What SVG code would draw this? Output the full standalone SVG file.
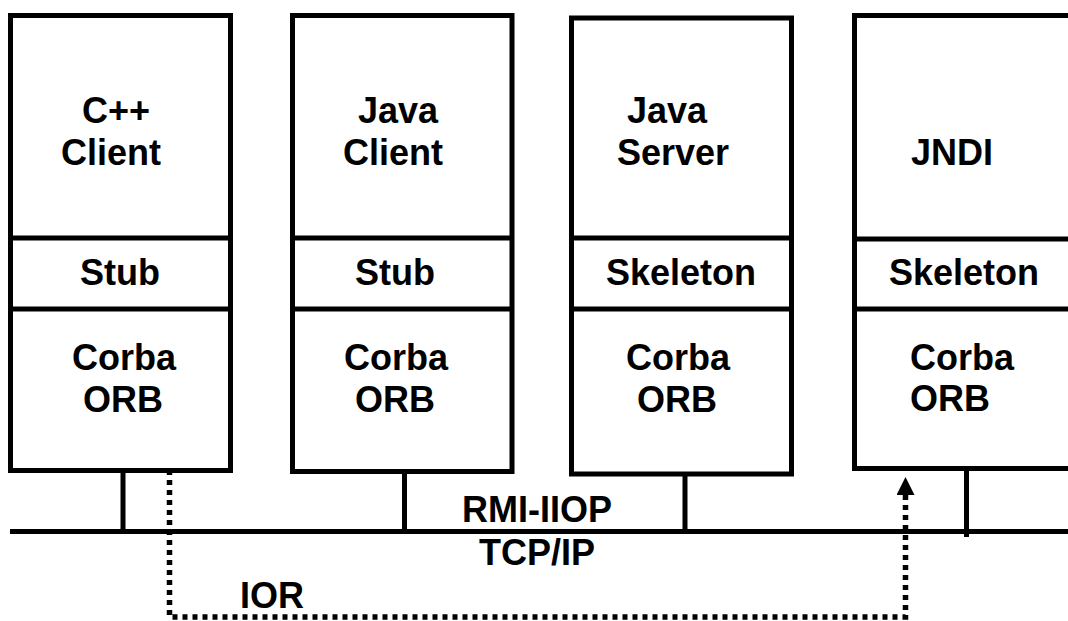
<svg xmlns="http://www.w3.org/2000/svg" width="1068" height="621" viewBox="0 0 1068 621">
<style>
.box{fill:#fff;stroke:#000;stroke-width:5}
.ln{stroke:#000;stroke-width:5;fill:none}
.dot{stroke:#000;stroke-width:5.5;fill:none;stroke-dasharray:5 5}
text{font-family:"Liberation Sans",Arial,sans-serif;font-weight:bold;font-size:36px;fill:#000}
</style>
<defs>
<marker id="arr" markerUnits="userSpaceOnUse" markerWidth="18" markerHeight="18" viewBox="0 0 18 18" refX="0" refY="9" orient="auto">
<polygon points="0,0 18,9 0,18" fill="#000"/>
</marker>
</defs>
<g id="connectors">
<line class="ln" x1="10" y1="531.5" x2="1068" y2="531.5"/>
<line class="ln" x1="123" y1="470" x2="123" y2="531.5"/>
<line class="ln" x1="404.5" y1="471" x2="404.5" y2="531.5"/>
<line class="ln" x1="685" y1="474" x2="685" y2="531.5"/>
<line class="ln" x1="966.5" y1="468" x2="966.5" y2="537"/>
<path class="dot" d="M169.5 470 V617 H905.5 V495" marker-end="url(#arr)"/>
</g>
<g id="cpp-client">
<rect class="box" x="10.5" y="15.5" width="220" height="455"/>
<line class="ln" x1="10.5" y1="238" x2="230.5" y2="238"/>
<line class="ln" x1="10.5" y1="309" x2="230.5" y2="309"/>
<text x="82" y="123">C++</text>
<text x="61" y="165">Client</text>
<text x="80" y="285">Stub</text>
<text x="72" y="370">Corba</text>
<text x="83" y="412">ORB</text>
</g>
<g id="java-client">
<rect class="box" x="292.5" y="15.5" width="219.5" height="456"/>
<line class="ln" x1="292.5" y1="238" x2="512" y2="238"/>
<line class="ln" x1="292.5" y1="309" x2="512" y2="309"/>
<text x="358" y="123">Java</text>
<text x="343" y="165">Client</text>
<text x="355" y="285">Stub</text>
<text x="344" y="370">Corba</text>
<text x="355" y="412">ORB</text>
</g>
<g id="java-server">
<rect class="box" x="571.5" y="18" width="220" height="456"/>
<line class="ln" x1="571.5" y1="238" x2="791.5" y2="238"/>
<line class="ln" x1="571.5" y1="309" x2="791.5" y2="309"/>
<text x="627" y="123">Java</text>
<text x="617" y="165">Server</text>
<text x="606" y="285">Skeleton</text>
<text x="626" y="370">Corba</text>
<text x="637" y="412">ORB</text>
</g>
<g id="jndi">
<rect class="box" x="854.5" y="15.5" width="230" height="453"/>
<line class="ln" x1="854.5" y1="239" x2="1080" y2="239"/>
<line class="ln" x1="854.5" y1="309" x2="1080" y2="309"/>
<text x="911" y="165">JNDI</text>
<text x="889" y="285">Skeleton</text>
<text x="910" y="370">Corba</text>
<text x="910" y="411">ORB</text>
</g>
<g id="labels">
<text x="462" y="522">RMI-IIOP</text>
<text x="479" y="565">TCP/IP</text>
<text x="240" y="608">IOR</text>
</g>
</svg>
